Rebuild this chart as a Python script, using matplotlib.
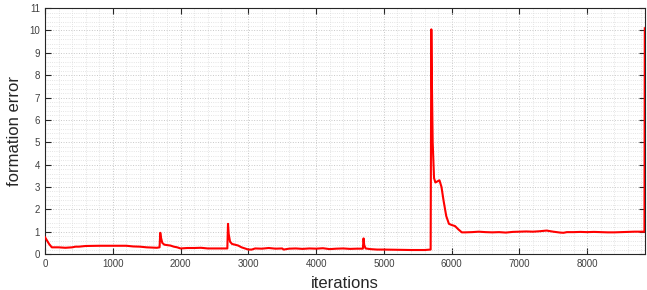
import matplotlib
matplotlib.use("Agg")
import matplotlib.pyplot as plt
from matplotlib.ticker import MultipleLocator

iterations = [0, 30, 60, 100, 200, 300, 400, 450, 500, 600, 800, 1000, 1200, 1300, 1400, 1500, 1650, 1690,
              1700, 1710, 1730, 1760, 1800, 1850, 1900, 1950, 2000, 2100, 2200, 2300, 2400, 2500, 2600, 2690,
              2700, 2710, 2730, 2760, 2800, 2850, 2900, 2950, 3000, 3050, 3100, 3200, 3300, 3400, 3500, 3520,
              3600, 3700, 3800, 3900, 4000, 4100, 4200, 4300, 4400, 4500, 4600, 4690,
              4700, 4710, 4730, 4800, 4900, 5000, 5200, 5400, 5600, 5690,
              5700, 5705, 5720, 5740, 5760, 5790, 5820, 5850, 5880, 5920, 5960, 6000, 6050, 6100, 6150, 6200,
              6300, 6400, 6500, 6600, 6700, 6800, 6900, 7000, 7100, 7200, 7300, 7400, 7500, 7600, 7650, 7700,
              7800, 7900, 8000, 8100, 8200, 8300, 8400, 8500, 8600, 8700, 8800, 8845, 8850]
formation_error = [0.75, 0.6, 0.45, 0.3, 0.3, 0.28, 0.3, 0.33, 0.33, 0.36, 0.37, 0.37, 0.37, 0.34, 0.33, 0.3, 0.28, 0.3,
                   0.95, 0.75, 0.5, 0.42, 0.4, 0.38, 0.33, 0.3, 0.25, 0.27, 0.27, 0.28, 0.25, 0.25, 0.25, 0.25,
                   1.35, 0.9, 0.55, 0.45, 0.42, 0.38, 0.3, 0.25, 0.2, 0.2, 0.25, 0.24, 0.27, 0.24, 0.25, 0.2,
                   0.24, 0.25, 0.23, 0.25, 0.24, 0.26, 0.22, 0.24, 0.25, 0.23, 0.24, 0.24,
                   0.7, 0.4, 0.25, 0.22, 0.2, 0.2, 0.19, 0.18, 0.18, 0.2,
                   10.05, 8.5, 5.0, 3.4, 3.2, 3.25, 3.3, 3.0, 2.4, 1.7, 1.35, 1.3, 1.25, 1.1, 0.97, 0.97,
                   0.98, 1.0, 0.98, 0.97, 0.98, 0.96, 0.99, 1.0, 1.01, 1.0, 1.02, 1.05, 1.0, 0.96, 0.95, 0.98,
                   0.98, 0.99, 0.98, 0.99, 0.98, 0.97, 0.97, 0.98, 0.99, 1.0, 1.0, 1.0, 10.1]

fig = plt.figure(figsize=(6.47, 2.9), dpi=100)
ax = fig.add_axes([0.0696, 0.124, 0.927, 0.848])
ax.plot(iterations, formation_error, color="#ff0000", linewidth=1.5, zorder=3)
ax.set_xlim(0, 8850)
ax.set_ylim(0, 11)
ax.xaxis.set_major_locator(MultipleLocator(1000))
ax.xaxis.set_minor_locator(MultipleLocator(200))
ax.yaxis.set_major_locator(MultipleLocator(1))
ax.yaxis.set_minor_locator(MultipleLocator(0.2))
ax.grid(which="major", color="#c8c8c8", linestyle=":", linewidth=0.7)
ax.grid(which="minor", color="#dcdcdc", linestyle=":", linewidth=0.6)
ax.tick_params(which="both", direction="in", top=True, right=True, labelsize=7, colors="#262626",
               labelcolor="#404040")
ax.tick_params(which="major", length=4, width=0.8)
ax.tick_params(which="minor", length=0)
for s in ax.spines.values():
    s.set_color("#262626")
    s.set_linewidth(0.8)
ax.set_xlabel("iterations", fontsize=12, color="#262626", family="Liberation Sans", labelpad=5)
ax.set_ylabel("formation error", fontsize=12, color="#262626", family="Liberation Sans", labelpad=5)
for lab in ax.get_xticklabels() + ax.get_yticklabels():
    lab.set_family("Liberation Sans")
fig.savefig("out.png", dpi=100)
